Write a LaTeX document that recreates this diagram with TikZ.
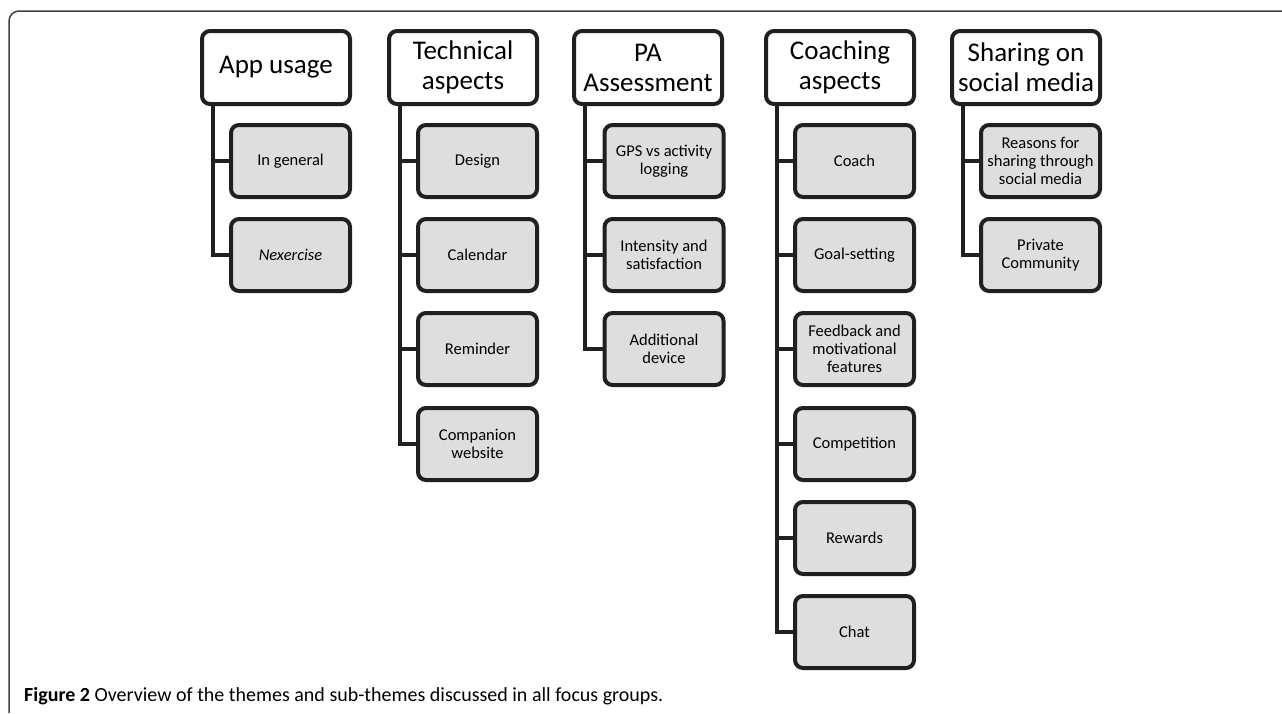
\documentclass[tikz,border=0pt]{standalone}
\usepackage{fontspec}
\setmainfont{Carlito}
\usepackage{tikz}
\usetikzlibrary{positioning}
\definecolor{ink}{HTML}{231F20}
\definecolor{boxgray}{HTML}{DEDEDE}
\tikzstyle{theme}=[draw=ink, fill=white, line width=4pt, rounded corners=8pt, align=center, inner sep=0pt, minimum width=148pt, minimum height=73pt, font=\fontsize{27}{30}\selectfont]
\tikzstyle{subtheme}=[theme, fill=boxgray, minimum width=119pt, minimum height=72pt, font=\fontsize{16.5}{18}\selectfont]
\tikzstyle{edge} = [draw=ink, line width=4pt, -]
\tikzstyle{frame} = [draw=ink!85, line width=1.5pt, rounded corners=10pt]
\tikzstyle{note} = [draw=none, inner sep=0pt, anchor=base west, font=\fontsize{20}{24}\selectfont]

\begin{document}
\begin{tikzpicture}[x=1pt, y=-1pt]
	\useasboundingbox (0,0) rectangle (1282,713);
	\path[frame] (1282,11) -- (9,11) -- (9,713);

	% First we draw the themes
	\foreach \pos/\label/\name in {
		{(276,67.5)/1/App usage},
		{(463,67.5)/2/{Technical\\aspects}},
		{(648,67.5)/3/{PA\\Assessment}},
		{(840,67.5)/4/{Coaching\\aspects}},
		{(1026,67.5)/5/{Sharing on\\social media}}}
	\node[theme] (\label) at \pos {\name};

	% then the sub-themes below them
	\foreach \pos/\label/\name in {
		{(290.5,161)/11/In general},
		{(290.5,255)/12/\textit{Nexercise}},
		{(477.5,161)/21/Design},
		{(477.5,255)/22/Calendar},
		{(477.5,349)/23/Reminder},
		{(477.5,444)/24/{Companion\\website}},
		{(664,161)/31/{GPS vs activity\\logging}},
		{(664,255)/32/{Intensity and\\satisfaction}},
		{(664,349)/33/{Additional\\device}},
		{(854.5,161)/41/Coach},
		{(854.5,255)/42/Goal-setting},
		{(854.5,349)/43/{Feedback and\\motivational\\features}},
		{(854.5,444)/44/Competition},
		{(854.5,538)/45/Rewards},
		{(854.5,632)/46/Chat},
		{(1040.5,161)/51/{Reasons for\\sharing through\\social media}},
		{(1040.5,255)/52/{Private\\Community}}}
	\node[subtheme] (\label) at \pos {\name};

	% Connect themes with their sub-themes
	\foreach \source/ \dest in {
		1/11, 1/12,
		2/21, 2/22, 2/23, 2/24,
		3/31, 3/32, 3/33,
		4/41, 4/42, 4/43, 4/44, 4/45, 4/46,
		5/51, 5/52}
	\path[edge] ([xshift=13pt]\source.south west) |- (\dest.west);

	\node[note] (caption) at (24,701) {\textbf{Figure 2} Overview of the themes and sub-themes discussed in all focus groups.};
\end{tikzpicture}
\end{document}
